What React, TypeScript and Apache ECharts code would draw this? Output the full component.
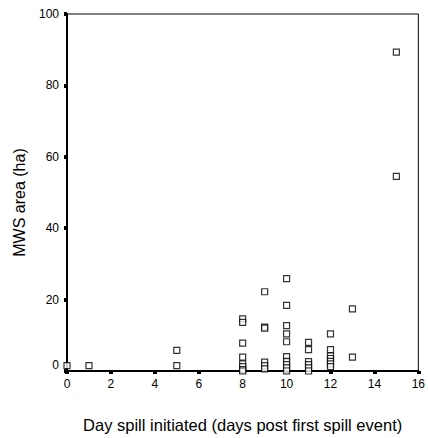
import React, { useEffect, useRef } from "react";
import * as echarts from "echarts";

const xDays: number[] = [
  0, 1, 5, 5,
  8, 8, 8, 8, 8, 8, 8, 8,
  9, 9, 9, 9, 9, 9,
  10, 10, 10, 10, 10, 10, 10, 10, 10, 10,
  11, 11, 11, 11, 11, 11,
  12, 12, 12, 12, 12, 12, 12,
  13, 13,
  15, 15,
];
const yArea: number[] = [
  1.5, 1.5, 5.8, 1.5,
  14.6, 13.6, 7.8, 3.9, 2.0, 1.2, 0.4, 0,
  22.2, 12.3, 12.0, 2.5, 1.5, 0.6,
  25.9, 18.4, 12.7, 10.4, 8.2, 4.0, 2.7, 1.8, 0.9, 0,
  8.0, 6.0, 2.6, 1.8, 0.9, 0,
  10.4, 6.0, 4.2, 3.5, 2.7, 2.0, 1.2,
  17.4, 3.9,
  89.3, 54.5,
];

const xTicks = { min: 0, max: 16, interval: 2 };
const yTicks = { min: 0, max: 100, interval: 20 };

export default function App() {
  const ref = useRef<HTMLDivElement>(null);
  useEffect(() => {
    if (!ref.current) return;
    const chart = echarts.init(ref.current, null, { renderer: "svg" });
    const font = "'Liberation Sans', Arial, sans-serif";
    chart.setOption({
      animation: false,
      backgroundColor: "#fff",
      grid: {
        left: 67,
        right: 7,
        top: 14,
        bottom: 66.5,
        show: true,
        borderColor: "#000",
        borderWidth: 1,
        backgroundColor: "transparent",
      },
      xAxis: {
        type: "value",
        min: xTicks.min,
        max: xTicks.max,
        interval: xTicks.interval,
        name: "Day spill initiated (days post first spill event)",
        nameLocation: "middle",
        nameGap: 45,
        nameTextStyle: { fontFamily: font, fontSize: 16.5, color: "#000" },
        axisLine: { show: true, lineStyle: { color: "#000", width: 2 } },
        axisTick: { show: true, inside: false, length: 3, lineStyle: { color: "#000", width: 4 } },
        axisLabel: { fontFamily: font, fontSize: 12, color: "#000", margin: 7 },
        splitLine: { show: false },
      },
      yAxis: {
        type: "value",
        min: yTicks.min,
        max: yTicks.max,
        interval: yTicks.interval,
        name: "MWS area (ha)",
        nameLocation: "middle",
        nameGap: 40,
        nameTextStyle: { fontFamily: font, fontSize: 16, color: "#000", padding: [0, 20, 0, 0] },
        axisLine: { show: true, lineStyle: { color: "#000", width: 2 } },
        axisTick: { show: true, inside: false, length: 3, lineStyle: { color: "#000", width: 4 } },
        axisLabel: {
          fontFamily: font,
          fontSize: 12,
          color: "#000",
          margin: 8,
          formatter: (v: number) => (v === 0 ? "{z|0}" : String(v)),
          rich: { z: { fontFamily: font, fontSize: 12, color: "#000", padding: [0, 0, 13, 0] } },
        },
        splitLine: { show: false },
      },
      series: [
        {
          type: "scatter",
          data: xDays.map((x, i) => [x, yArea[i]]),
          symbol: "rect",
          symbolSize: 6,
          itemStyle: { color: "#fff", borderColor: "#000", borderWidth: 1.2 },
          clip: false,
        },
      ],
    });
    return () => chart.dispose();
  }, []);
  return <div ref={ref} style={{ width: 428, height: 438, position: "absolute", left: 0, top: 0 }} />;
}
